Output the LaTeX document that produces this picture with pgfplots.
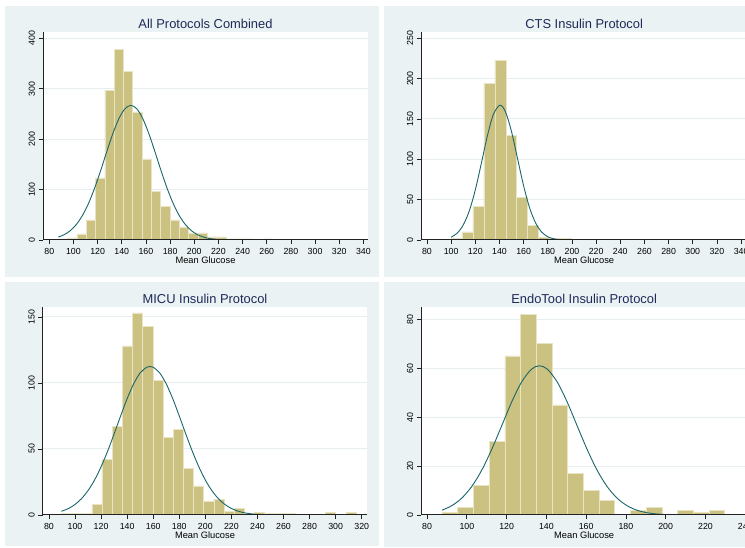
\documentclass[border=0pt]{standalone}
\usepackage{pgfplots}
\pgfplotsset{compat=1.18}
\usepackage{fontspec}
\setmainfont{Liberation Sans}

\definecolor{panelbg}{RGB}{234,242,243}
\definecolor{gridc}{RGB}{230,238,240}
\definecolor{barfill}{RGB}{203,193,128}
\definecolor{baredge}{RGB}{232,228,196}
\definecolor{fitc}{RGB}{26,102,106}
\definecolor{titlec}{RGB}{30,42,88}
\definecolor{axisc}{RGB}{35,35,35}

\pgfplotsset{
  histpanel/.style={
    scale only axis,
    anchor=south west,
    height=207.7bp,
    ymin=0,
    axis lines*=left,
    axis line style={axisc, line width=1bp},
    tick align=outside,
    major tick length=4.5bp,
    tick style={axisc, line width=0.8bp},
    axis background/.style={fill=white},
    ymajorgrids,
    grid style={gridc, line width=1bp},
    clip mode=individual,
    /pgf/number format/assume math mode=true,
    ticklabel style={font=\fontsize{8.8bp}{10bp}\selectfont, text=black},
    yticklabel style={rotate=90, anchor=south},
    xlabel={Mean Glucose},
    xlabel style={font=\fontsize{9.3bp}{11bp}\selectfont, at={(axis description cs:0.5,0)}, anchor=base, yshift=-24bp},
    every axis title shift=0pt,
    title style={font=\fontsize{12.9bp}{15bp}\selectfont, text=titlec, at={(axis description cs:0.5,1)}, anchor=base, yshift=3.3bp},
  },
  hist/.style={ybar interval, fill=barfill, draw=baredge, line width=0.6bp},
  fit/.style={fitc, line width=0.9bp, smooth, mark=none},
}

% bin left edges and counts; the last row closes the final bin
\pgfplotstableread{
x y
87.5 2
95.2 4
102.9 12
110.6 40
118.3 123
126.0 297
133.7 378
141.4 334
149.1 254
156.8 161
164.5 97
172.2 67
179.9 40
187.6 26
195.3 14
203.0 14
210.7 6
218.4 6
226.1 2
233.8 2
241.5 2
249.2 1
256.9 2
264.6 0
272.3 1
280.0 0
287.7 1
295.4 1
303.1 1
310.8 1
318.5 0
326.2 1
333.9 0
}\histall

\pgfplotstableread{
x y
99.90 2
108.97 10
118.04 42
127.11 194
136.18 223
145.25 130
154.32 53
163.39 18
172.46 3
181.53 2
190.60 2
199.67 1
208.74 0
217.81 0
226.88 0
235.95 0
245.02 1
254.09 0
263.16 0
272.23 0
281.30 0
290.37 0
299.44 0
308.51 0
317.58 0
326.65 1
335.72 0
}\histcts

\pgfplotstableread{
x y
89.5 1
97.3 1
105.1 1
112.9 8
120.7 42
128.5 67
136.3 128
144.1 153
151.9 143
159.7 102
167.5 59
175.3 65
183.1 35
190.9 22
198.7 10
206.5 12
214.3 3
222.1 5
229.9 0
237.7 2
245.5 1
253.3 1
261.1 1
268.9 0
276.7 0
284.5 0
292.3 2
300.1 0
307.9 2
315.7 0
}\histmicu

\pgfplotstableread{
x y
87.5 1
95.4 3
103.3 12
111.2 30
119.1 65
127.0 82
134.9 70
142.8 45
150.7 17
158.6 10
166.5 6
174.4 0
182.3 2
190.2 3
198.1 0
206.0 2
213.9 1
221.8 2
229.7 0
}\histendo

\begin{document}
\begin{tikzpicture}[x=1bp,y=1bp]
\begin{scope}
\clip (0,0) rectangle (745,548);
\fill[white] (0,0) rectangle (745,548);
% panel backgrounds
\fill[panelbg] (5,271) rectangle (379,542);
\fill[panelbg] (384,271) rectangle (770,542);
\fill[panelbg] (5,2) rectangle (379,266);
\fill[panelbg] (384,1) rectangle (770,266);

% all protocols
\begin{axis}[histpanel, at={(43bp,308bp)}, width=325bp,
  xmin=74.8, xmax=343.8, ymax=411.9,
  xtick={80,100,...,340}, ytick={0,100,...,400},
  title={All Protocols Combined}]
\addplot[hist] table {\histall};
\addplot[fit] coordinates {(87.5,5.84)(92.5,10.75)(97.5,18.77)(102.5,31.1)(107.5,48.8)(112.5,72.7)(117.5,102.7)(122.5,137.5)(127.5,174.6)(132.5,210.3)(137.5,240.1)(142.5,260.0)(147.5,267)(152.5,260.0)(157.5,240.1)(162.5,210.3)(167.5,174.6)(172.5,137.5)(177.5,102.7)(182.5,72.7)(187.5,48.8)(192.5,31.1)(197.5,18.77)(202.5,10.75)(207.5,5.84)(212.5,3.01)(217.5,1.47)(222.5,0.68)(227.5,0.30)(237.5,0.05)(250,0)(333.9,0)};
\draw[axisc, line width=1bp] (rel axis cs:0,0) -- (rel axis cs:1,0);
\end{axis}

% CTS
\begin{axis}[histpanel, at={(421.3bp,308bp)}, width=325.7bp,
  xmin=75.3, xmax=344.9, ymax=257.4,
  xtick={80,100,...,340}, ytick={0,50,...,250},
  title={CTS Insulin Protocol}]
\addplot[hist] table {\histcts};
\addplot[fit] coordinates {(99.9,3.38)(105,8.48)(110,18.55)(115,36.0)(120,62.1)(125,95.0)(130,129.1)(135,155.8)(140.4,167)(145,158.8)(150,134.1)(155,100.6)(160,67.0)(165,39.6)(170,20.8)(175,9.69)(180,4.01)(185,1.47)(190,0.48)(195,0.14)(200,0.04)(210,0)(335.7,0)};
\draw[axisc, line width=1bp] (rel axis cs:0,0) -- (rel axis cs:1,0);
\end{axis}

% MICU
\begin{axis}[histpanel, at={(42.7bp,33bp)}, width=324.6bp,
  xmin=75.2, xmax=324.3, ymax=157.3,
  xtick={80,100,...,320}, ytick={0,50,...,150},
  title={MICU Insulin Protocol}]
\addplot[hist] table {\histmicu};
\addplot[fit] coordinates {(89.5,2.78)(95,4.94)(100,7.99)(105,12.4)(110,18.5)(115,26.5)(120,36.5)(125,48.3)(130,61.4)(135,75.0)(140,88.1)(145,99.3)(150,107.6)(155,111.9)(157.5,112.5)(160,111.9)(165,107.6)(170,99.3)(175,88.1)(180,75.0)(185,61.4)(190,48.3)(195,36.5)(200,26.5)(205,18.5)(210,12.4)(215,7.99)(220,4.94)(225,2.94)(230,1.68)(235,0.92)(240,0.49)(250,0.12)(260,0.02)(270,0)(315.7,0)};
\draw[axisc, line width=1bp] (rel axis cs:0,0) -- (rel axis cs:1,0);
\end{axis}

% EndoTool
\begin{axis}[histpanel, at={(421.3bp,33bp)}, width=325.7bp,
  xmin=77.1, xmax=240.9, ymax=84.9,
  xtick={80,100,...,240}, ytick={0,20,...,80},
  title={EndoTool Insulin Protocol}]
\addplot[hist] table {\histendo};
\addplot[fit] coordinates {(87.5,1.97)(92.5,3.83)(97.5,6.93)(102.5,11.68)(107.5,18.33)(112.5,26.8)(117.5,36.4)(122.5,46.1)(127.5,54.3)(132.5,59.6)(136.5,61)(140.5,59.6)(145.5,54.3)(150.5,46.1)(155.5,36.4)(160.5,26.8)(165.5,18.33)(170.5,11.68)(175.5,6.93)(180.5,3.83)(185.5,1.97)(190.5,0.94)(195.5,0.42)(200.5,0.17)(210,0.03)(220,0)(229.7,0)};
\draw[axisc, line width=1bp] (rel axis cs:0,0) -- (rel axis cs:1,0);
\end{axis}
\end{scope}
\pgfresetboundingbox
\path[use as bounding box] (0,0) rectangle (745,548);
\end{tikzpicture}
\end{document}
